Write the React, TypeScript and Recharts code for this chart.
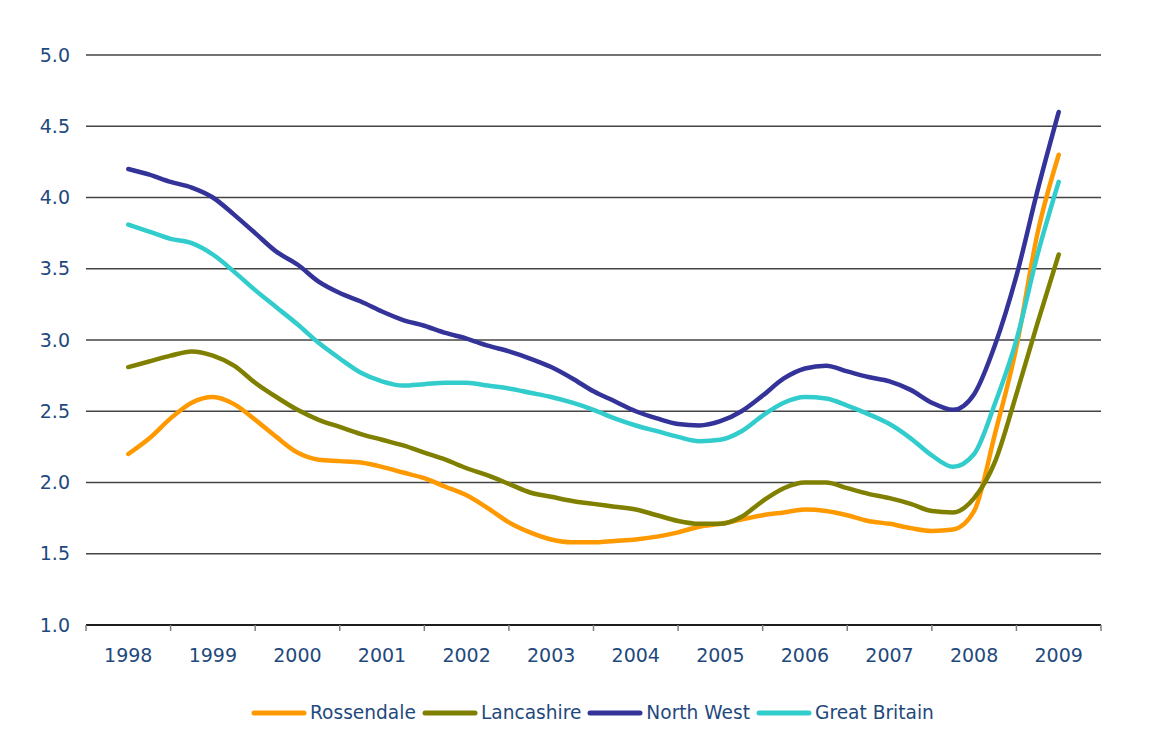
import { LineChart, Line, XAxis, YAxis, CartesianGrid } from "recharts";

// quarterly points, 1998 to 2009
const quarters = [
  1998, 1998.25, 1998.5, 1998.75, 1999, 1999.25, 1999.5, 1999.75,
  2000, 2000.25, 2000.5, 2000.75, 2001, 2001.25, 2001.5, 2001.75,
  2002, 2002.25, 2002.5, 2002.75, 2003, 2003.25, 2003.5, 2003.75,
  2004, 2004.25, 2004.5, 2004.75, 2005, 2005.25, 2005.5, 2005.75,
  2006, 2006.25, 2006.5, 2006.75, 2007, 2007.25, 2007.5, 2007.75,
  2008, 2008.25, 2008.5, 2008.75, 2009,
];

const rossendale = [
  2.2, 2.31, 2.45, 2.56, 2.6, 2.55, 2.44, 2.32,
  2.21, 2.16, 2.15, 2.14, 2.11, 2.07, 2.03, 1.97,
  1.91, 1.82, 1.72, 1.65, 1.6, 1.58, 1.58, 1.59,
  1.6, 1.62, 1.65, 1.69, 1.71, 1.74, 1.77, 1.79,
  1.81, 1.8, 1.77, 1.73, 1.71, 1.68, 1.66, 1.67,
  1.8, 2.35, 2.95, 3.75, 4.3,
];

const lancashire = [
  2.81, 2.85, 2.89, 2.92, 2.89, 2.82, 2.7, 2.6,
  2.51, 2.44, 2.39, 2.34, 2.3, 2.26, 2.21, 2.16,
  2.1, 2.05, 1.99, 1.93, 1.9, 1.87, 1.85, 1.83,
  1.81, 1.77, 1.73, 1.71, 1.71, 1.76, 1.87, 1.96,
  2.0, 2.0, 1.96, 1.92, 1.89, 1.85, 1.8, 1.79,
  1.89, 2.15, 2.62, 3.12, 3.6,
];

const northWest = [
  4.2, 4.16, 4.11, 4.07, 4.0, 3.88, 3.75, 3.62,
  3.53, 3.41, 3.33, 3.27, 3.2, 3.14, 3.1, 3.05,
  3.01, 2.96, 2.92, 2.87, 2.81, 2.73, 2.64, 2.57,
  2.5, 2.45, 2.41, 2.4, 2.43, 2.5, 2.61, 2.73,
  2.8, 2.82, 2.78, 2.74, 2.71, 2.65, 2.56, 2.51,
  2.62, 2.97, 3.45, 4.05, 4.6,
];

const greatBritain = [
  3.81, 3.76, 3.71, 3.68, 3.6, 3.48, 3.35, 3.23,
  3.11, 2.98, 2.87, 2.77, 2.71, 2.68, 2.69, 2.7,
  2.7, 2.68, 2.66, 2.63, 2.6, 2.56, 2.51, 2.45,
  2.4, 2.36, 2.32, 2.29, 2.3, 2.36, 2.47, 2.56,
  2.6, 2.59, 2.54, 2.48, 2.41, 2.31, 2.19, 2.11,
  2.2, 2.56, 3.0, 3.6, 4.11,
];

// year labels sit in the middle, tick marks between years
const xTicks = [
  1997.5, 1998, 1998.5, 1999, 1999.5, 2000, 2000.5, 2001, 2001.5,
  2002, 2002.5, 2003, 2003.5, 2004, 2004.5, 2005, 2005.5, 2006, 2006.5,
  2007, 2007.5, 2008, 2008.5, 2009, 2009.5,
];
const yTicks = [1.0, 1.5, 2.0, 2.5, 3.0, 3.5, 4.0, 4.5, 5.0];

const series = [
  { key: "rossendale", name: "Rossendale", color: "#FF9900" },
  { key: "lancashire", name: "Lancashire", color: "#808000" },
  { key: "northWest", name: "North West", color: "#333399" },
  { key: "greatBritain", name: "Great Britain", color: "#33CCCC" },
];

const data = quarters.map((q, i) => ({
  t: q,
  rossendale: rossendale[i],
  lancashire: lancashire[i],
  northWest: northWest[i],
  greatBritain: greatBritain[i],
}));

const TEXT = "#1F497D";
const FONT = "'DejaVu Sans', Verdana, sans-serif";

const YearTick = ({ x, y, payload }: any) => {
  const v = payload.value;
  if (Number.isInteger(v)) {
    return (
      <text x={x} y={y + 37} textAnchor="middle" fill={TEXT} fontSize={19} fontFamily={FONT}>
        {v}
      </text>
    );
  }
  return <line x1={x} y1={y} x2={x} y2={y + 6} stroke="#808080" strokeWidth={1.5} />;
};

export default function App() {
  return (
    <div
      style={{
        position: "relative",
        width: 1152,
        height: 745,
        border: "1px dotted #000",
        marginLeft: -1,
        marginTop: -1,
        background: "#fff",
      }}
    >
      <LineChart
        width={1152}
        height={733}
        data={data}
        margin={{ top: 47, right: 59, left: 0, bottom: 86 }}
      >
        <CartesianGrid vertical={false} stroke="#444" strokeWidth={1.3} />
        <XAxis
          dataKey="t"
          type="number"
          domain={[1997.5, 2009.5]}
          ticks={xTicks}
          interval={0}
          tick={<YearTick />}
          tickLine={false}
          tickSize={0}
          tickMargin={0}
          height={30}
          axisLine={{ stroke: "#000", strokeWidth: 1.5 }}
        />
        <YAxis
          domain={[1, 5]}
          ticks={yTicks}
          interval={0}
          width={78}
          tickFormatter={(v: number) => v.toFixed(1)}
          tickLine={false}
          axisLine={false}
          tickMargin={10}
          tick={{ fill: TEXT, fontSize: 19, fontFamily: FONT }}
        />
        {series.map((s) => (
          <Line
            key={s.key}
            type="monotone"
            dataKey={s.key}
            name={s.name}
            stroke={s.color}
            strokeWidth={4.5}
            strokeLinecap="round"
            dot={false}
            isAnimationActive={false}
          />
        ))}
      </LineChart>

      {/* legend */}
      <div
        style={{
          position: "absolute",
          left: 243,
          top: 694,
          display: "flex",
          alignItems: "center",
          fontFamily: FONT,
          fontSize: 18.6,
          color: TEXT,
          whiteSpace: "nowrap",
        }}
      >
        {series.map((s) => (
          <div key={s.key} style={{ display: "flex", alignItems: "center", marginRight: 6 }}>
            <svg width={56} height={10}>
              <line x1={3} y1={5} x2={53} y2={5} stroke={s.color} strokeWidth={5} strokeLinecap="round" />
            </svg>
            <span style={{ marginLeft: 3 }}>{s.name}</span>
          </div>
        ))}
      </div>
    </div>
  );
}
